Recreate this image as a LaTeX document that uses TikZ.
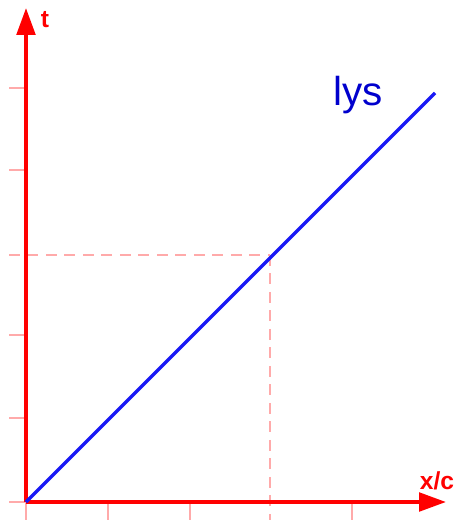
\documentclass[tikz,border=0pt]{standalone}
\usepackage{fontspec}
\setmainfont{Liberation Sans}
\usetikzlibrary{arrows.meta}
\definecolor{axisred}{RGB}{255,0,0}
\definecolor{lightblue}{RGB}{25,25,245}
\definecolor{lystext}{RGB}{0,0,205}
\definecolor{guidepink}{RGB}{255,170,170}

\begin{document}
\begin{tikzpicture}[x=0.02cm, y=-0.02cm,
    axis/.style={-{Triangle[length=0.54cm, width=0.37cm]}, line width=2.2pt, axisred},
    tick/.style={line width=1pt, guidepink},
    guide/.style={line width=1.1pt, guidepink, dash pattern=on 0.22cm off 0.15cm},
    lbl/.style={font=\fontsize{14}{14}\selectfont\bfseries, text=axisred, inner sep=0pt},
    light/.style={line width=2pt, lightblue}
  ]
    \useasboundingbox (0,0) rectangle (456,520);

    %% Axes
    \coordinate (O) at (26,502);
    \coordinate (ytip) at (26,8);
    \coordinate (xtip) at (446,502);

    %% Ticks
    \foreach \y in {88,170,335,418,502}
      \draw[tick] (9,\y) -- (26,\y);
    \foreach \x in {26,108,190,352}
      \draw[tick] (\x,502) -- (\x,520);

    %% Guides to the point on the line
    \coordinate (P) at (270,255);
    \draw[guide] (9,255) -- (P);
    \draw[guide] (P) -- (270,520);

    \draw[axis] (O) -- (ytip);
    \draw[axis] (O) -- (xtip);

    %% Light line
    \coordinate (L) at (435,93);
    \draw[light] (O) -- (L);

    %% Labels
    \node[lbl] (tlab) at (45,20) {t};
    \node[lbl] (xlab) at (437,481) {x/c};
    \node[font=\fontsize{23}{23}\selectfont, text=lystext, inner sep=0pt] (lys) at (358,95) {lys};
  \end{tikzpicture}
\end{document}
